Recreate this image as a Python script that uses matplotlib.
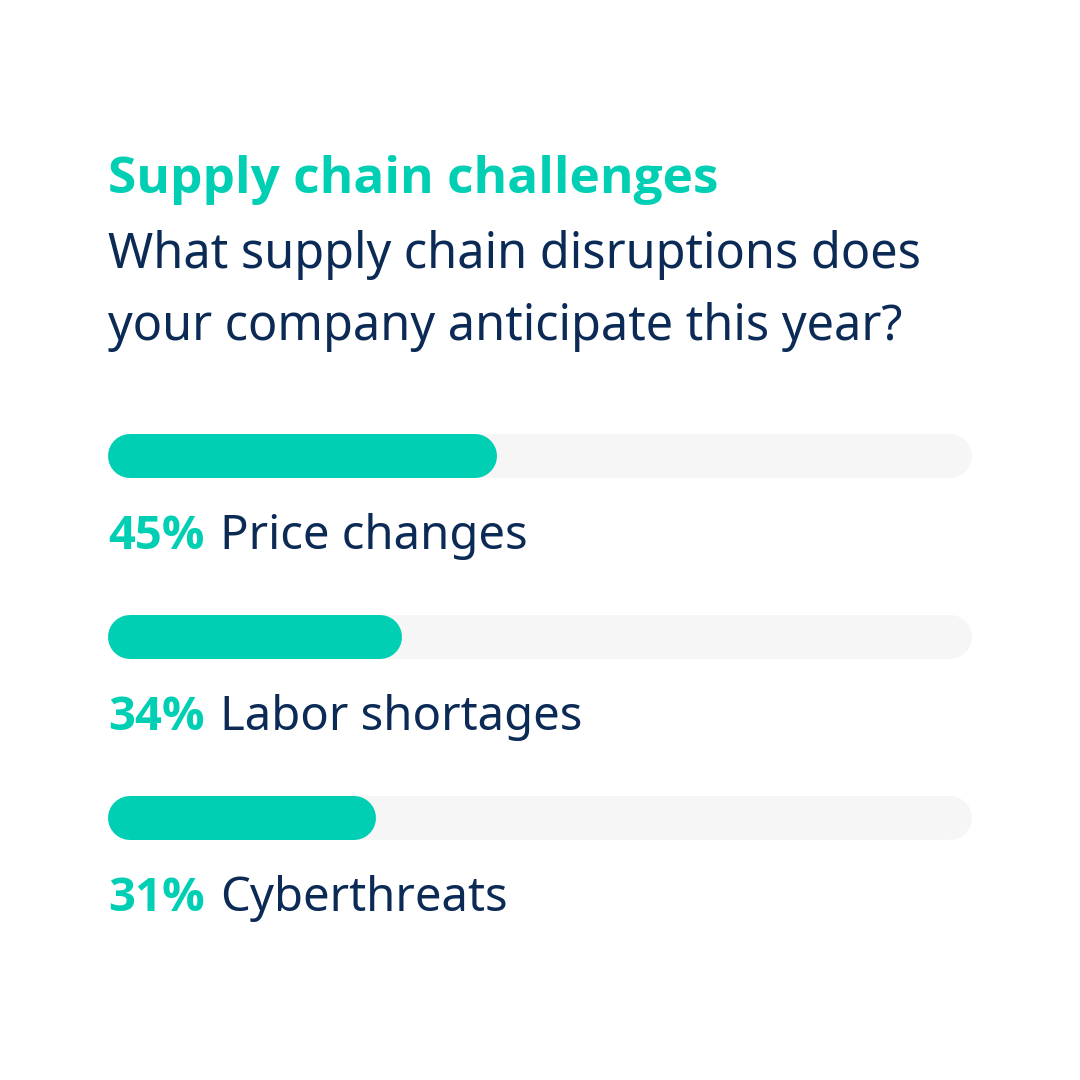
import matplotlib
matplotlib.use("Agg")
import matplotlib.pyplot as plt
from matplotlib import font_manager as fm
from matplotlib.transforms import offset_copy

title = "Supply chain challenges"
subtitle_lines = ["What supply chain disruptions does",
                  "your company anticipate this year?"]
categories = ["Price changes", "Labor shortages", "Cyberthreats"]
values = [45, 34, 31]

TEAL = "#00CFB4"
NAVY = "#0B2A55"
TRACK = "#F6F6F6"


def pick_bold(fams):
    for f in fams:
        try:
            p = fm.findfont(fm.FontProperties(family=f, weight="bold"),
                            fallback_to_default=False)
        except Exception:
            continue
        if "bold" in p.lower() or "black" in p.lower() or "semibold" in p.lower():
            return f
    return "DejaVu Sans"


REG = ["Noto Sans", "DejaVu Sans"]
BOLD = [pick_bold(["Noto Sans", "Open Sans", "Inter", "Lato", "Roboto"]), "DejaVu Sans"]

W = H = 1080
fig = plt.figure(figsize=(10.8, 10.8), dpi=100)
fig.patch.set_facecolor("white")

fig.text(108 / W, 1 - 193 / H, title, family=BOLD, fontweight="bold",
         fontsize=37, color=TEAL, ha="left", va="baseline")
for k, line in enumerate(subtitle_lines):
    fig.text(108 / W, 1 - (268 + 72 * k) / H, line, family=REG, fontsize=35,
             color=NAVY, ha="left", va="baseline")

left, width = 108 / W, 864 / W
ax = fig.add_axes([left, 0, width, 1])
ax.set_xlim(0, 100)
ax.set_ylim(H, 0)
ax.axis("off")

bar_px = 44
lw_pt = bar_px * 72 / 100
r = (bar_px / 2) / 864 * 100

row0, step = 456, 181
fig.canvas.draw()
renderer = fig.canvas.get_renderer()
for i, (cat, v) in enumerate(zip(categories, values)):
    y = row0 + i * step
    ax.plot([r, 100 - r], [y, y], color=TRACK, lw=lw_pt,
            solid_capstyle="round", zorder=1)
    ax.plot([r, v - r], [y, y], color=TEAL, lw=lw_pt,
            solid_capstyle="round", zorder=2)
    ty = y + 93
    t = ax.text(0, ty, f"{v}%", family=BOLD, fontweight="bold", fontsize=34,
                color=TEAL, ha="left", va="baseline")
    bb = t.get_window_extent(renderer)
    tr = offset_copy(ax.transData, fig=fig, x=(bb.width + 15) * 72 / 100, y=0,
                     units="points")
    ax.text(0, ty, cat, family=REG, fontsize=34, color=NAVY,
            ha="left", va="baseline", transform=tr)

fig.savefig("out.png", dpi=100, facecolor="white")
